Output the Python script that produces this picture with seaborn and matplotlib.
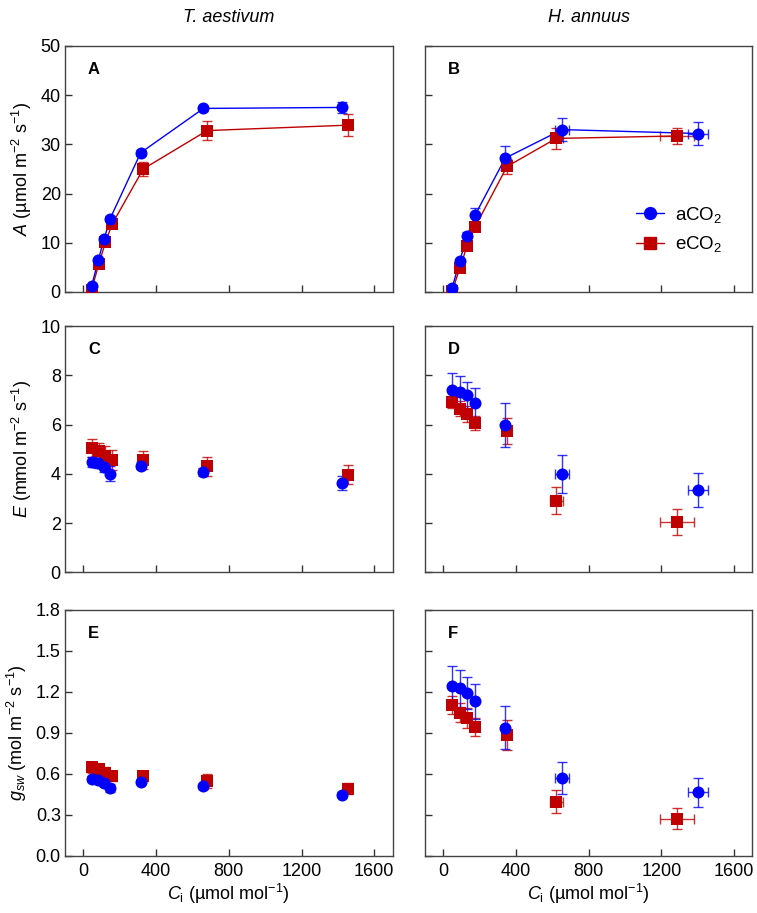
"""A/Ci, E/Ci and gsw/Ci responses for T. aestivum and H. annuus."""

import matplotlib

matplotlib.use("Agg")
import matplotlib.pyplot as plt
import pandas as pd
import seaborn as sns
from matplotlib.lines import Line2D

BLUE = "#0000ff"
RED = "#c00000"

# T. aestivum -----------------------------------------------------------
ta_ci_a = [46, 82, 115, 148, 316, 661, 1422]
ta_ci_e = [46, 86, 122, 159, 330, 681, 1455]

ta_A_a = [1.15, 6.4, 10.8, 14.9, 28.3, 37.3, 37.5]
ta_A_a_err = [0.3, 0.4, 0.4, 0.5, 0.6, 0.5, 1.2]
ta_A_e = [0.5, 5.7, 10.1, 13.8, 25.0, 32.8, 33.9]
ta_A_e_err = [0.3, 0.4, 0.5, 0.6, 1.4, 2.0, 2.2]

ta_E_a = [4.48, 4.44, 4.26, 4.00, 4.33, 4.07, 3.64]
ta_E_a_err = [0.2, 0.2, 0.2, 0.3, 0.15, 0.15, 0.28]
ta_E_e = [5.05, 4.91, 4.74, 4.57, 4.57, 4.30, 3.96]
ta_E_e_err = [0.37, 0.35, 0.4, 0.4, 0.37, 0.37, 0.39]

ta_g_a = [0.561, 0.554, 0.532, 0.493, 0.541, 0.507, 0.446]
ta_g_a_err = [0.02, 0.02, 0.02, 0.03, 0.02, 0.02, 0.02]
ta_g_e = [0.646, 0.632, 0.607, 0.583, 0.583, 0.544, 0.490]
ta_g_e_err = [0.04, 0.04, 0.04, 0.04, 0.04, 0.05, 0.04]

# H. annuus -------------------------------------------------------------
ha_ci_a = [49, 91, 131, 175, 341, 654, 1400]
ha_ci_a_err = [0, 0, 0, 0, 0, 38, 57]
ha_ci_e = [49, 91, 131, 175, 351, 621, 1284]
ha_ci_e_err = [0, 0, 0, 0, 0, 35, 92]

ha_A_a = [0.8, 6.3, 11.3, 15.6, 27.2, 33.0, 32.2]
ha_A_a_err = [0.3, 0.5, 0.9, 1.4, 2.4, 2.4, 2.4]
ha_A_e = [0.1, 4.8, 9.3, 13.2, 25.5, 31.2, 31.7]
ha_A_e_err = [0.3, 0.5, 0.6, 0.7, 1.5, 2.1, 1.7]

ha_E_a = [7.42, 7.33, 7.19, 6.89, 5.97, 3.99, 3.34]
ha_E_a_err = [0.68, 0.64, 0.54, 0.6, 0.89, 0.76, 0.7]
ha_E_e = [6.92, 6.65, 6.43, 6.07, 5.75, 2.90, 2.05]
ha_E_e_err = [0.26, 0.3, 0.33, 0.3, 0.52, 0.55, 0.54]

ha_g_a = [1.241, 1.224, 1.190, 1.129, 0.937, 0.566, 0.463]
ha_g_a_err = [0.15, 0.137, 0.12, 0.13, 0.156, 0.117, 0.106]
ha_g_e = [1.102, 1.046, 1.007, 0.939, 0.883, 0.395, 0.271]
ha_g_e_err = [0.067, 0.07, 0.07, 0.067, 0.107, 0.083, 0.077]

species = ["T. aestivum", "H. annuus"]
panel_letters = ["A", "B", "C", "D", "E", "F"]
y_limits = [(0, 50), (0, 10), (0, 1.8)]
y_ticks = [[0, 10, 20, 30, 40, 50], [0, 2, 4, 6, 8, 10],
           [0.0, 0.3, 0.6, 0.9, 1.2, 1.5, 1.8]]
y_labels = [r"$\it{A}$ (µmol m$^{-2}$ s$^{-1}$)",
            r"$\it{E}$ (mmol m$^{-2}$ s$^{-1}$)",
            r"$g_{\it{sw}}$ (mol m$^{-2}$ s$^{-1}$)"]
x_ticks = [0, 400, 800, 1200, 1600]
x_label = r"$C_{\rm i}$ (µmol mol$^{-1}$)"

sns.set_theme(style="ticks")
plt.rcParams["font.family"] = ["Liberation Sans", "DejaVu Sans"]
plt.rcParams["mathtext.fontset"] = "custom"
plt.rcParams["mathtext.rm"] = "Liberation Sans"
plt.rcParams["mathtext.it"] = "Liberation Sans:italic"
plt.rcParams["text.color"] = "black"
plt.rcParams["axes.labelcolor"] = "black"
plt.rcParams["xtick.labelcolor"] = "black"
plt.rcParams["ytick.labelcolor"] = "black"


def draw_series(ax, x, y, yerr, xerr, color, marker, connect):
    df = pd.DataFrame({"ci": x, "val": y})
    ax.errorbar(x, y, yerr=yerr, xerr=xerr, fmt="none", ecolor=color,
                elinewidth=1, capsize=3.5, capthick=1, alpha=0.8, zorder=2)
    if connect:
        sns.lineplot(data=df, x="ci", y="val", ax=ax, color=color,
                     linewidth=1, sort=False, zorder=3)
    sns.scatterplot(data=df, x="ci", y="val", ax=ax, color=color,
                    marker=marker, s=75 if marker == "o" else 65,
                    edgecolor=color, linewidth=0, zorder=4)


series = [
    # (species col, row, x_a, xerr_a, y_a, yerr_a, x_e, xerr_e, y_e, yerr_e)
    (0, 0, ta_ci_a, None, ta_A_a, ta_A_a_err, ta_ci_e, None, ta_A_e, ta_A_e_err),
    (1, 0, ha_ci_a, ha_ci_a_err, ha_A_a, ha_A_a_err, ha_ci_e, ha_ci_e_err, ha_A_e, ha_A_e_err),
    (0, 1, ta_ci_a, None, ta_E_a, ta_E_a_err, ta_ci_e, None, ta_E_e, ta_E_e_err),
    (1, 1, ha_ci_a, ha_ci_a_err, ha_E_a, ha_E_a_err, ha_ci_e, ha_ci_e_err, ha_E_e, ha_E_e_err),
    (0, 2, ta_ci_a, None, ta_g_a, ta_g_a_err, ta_ci_e, None, ta_g_e, ta_g_e_err),
    (1, 2, ha_ci_a, ha_ci_a_err, ha_g_a, ha_g_a_err, ha_ci_e, ha_ci_e_err, ha_g_e, ha_g_e_err),
]

fig = plt.figure(figsize=(7.57, 9.13), dpi=100)
lefts = [0.0859, 0.5614]
width = 0.4326
bottoms = [0.6802, 0.3732, 0.0628]
height = 0.2695

for i, (col, row, xa, xea, ya, yea, xe, xee, ye, yee) in enumerate(series):
    ax = fig.add_axes([lefts[col], bottoms[row], width, height])
    connect = row == 0
    draw_series(ax, xe, ye, yee, xee, RED, "s", connect)
    draw_series(ax, xa, ya, yea, xea, BLUE, "o", connect)

    ax.set_xlim(-100, 1700)
    ax.set_ylim(*y_limits[row])
    ax.set_xticks(x_ticks)
    ax.set_yticks(y_ticks[row])
    ax.tick_params(direction="in", length=5, width=1, color="#333333",
                   labelsize=13, labelcolor="black", top=False, right=False)
    ax.tick_params(axis="x", pad=5)
    ax.tick_params(axis="y", pad=3)
    for sp in ax.spines.values():
        sp.set_color("#444444")
        sp.set_linewidth(1)

    if col == 0:
        ax.set_ylabel(y_labels[row], fontsize=13, labelpad=5)
        ax.set_yticklabels([f"{t:g}" if row < 2 else f"{t:.1f}" for t in y_ticks[row]])
    else:
        ax.set_ylabel("")
        ax.set_yticklabels([])
    if row == 2:
        ax.set_xlabel(x_label, fontsize=13, labelpad=2)
    else:
        ax.set_xlabel("")
        ax.set_xticklabels([])
    if row == 0:
        ax.set_title(species[col], fontsize=13, style="italic", pad=17,
                     color="black")

    ax.text(0.07, 0.935, panel_letters[i], transform=ax.transAxes,
            fontsize=12, fontweight="bold", va="top", ha="left", color="black")

    if col == 1 and row == 0:
        handles = [
            Line2D([], [], color=BLUE, marker="o", markersize=8.5, linewidth=1),
            Line2D([], [], color=RED, marker="s", markersize=8, linewidth=1),
        ]
        ax.legend(handles, ["aCO$_2$", "eCO$_2$"], loc="lower right",
                  bbox_to_anchor=(0.96, 0.085), frameon=False, fontsize=13.5,
                  handlelength=1.5, handletextpad=0.6, labelspacing=0.5)

fig.savefig("out.png", dpi=100)
